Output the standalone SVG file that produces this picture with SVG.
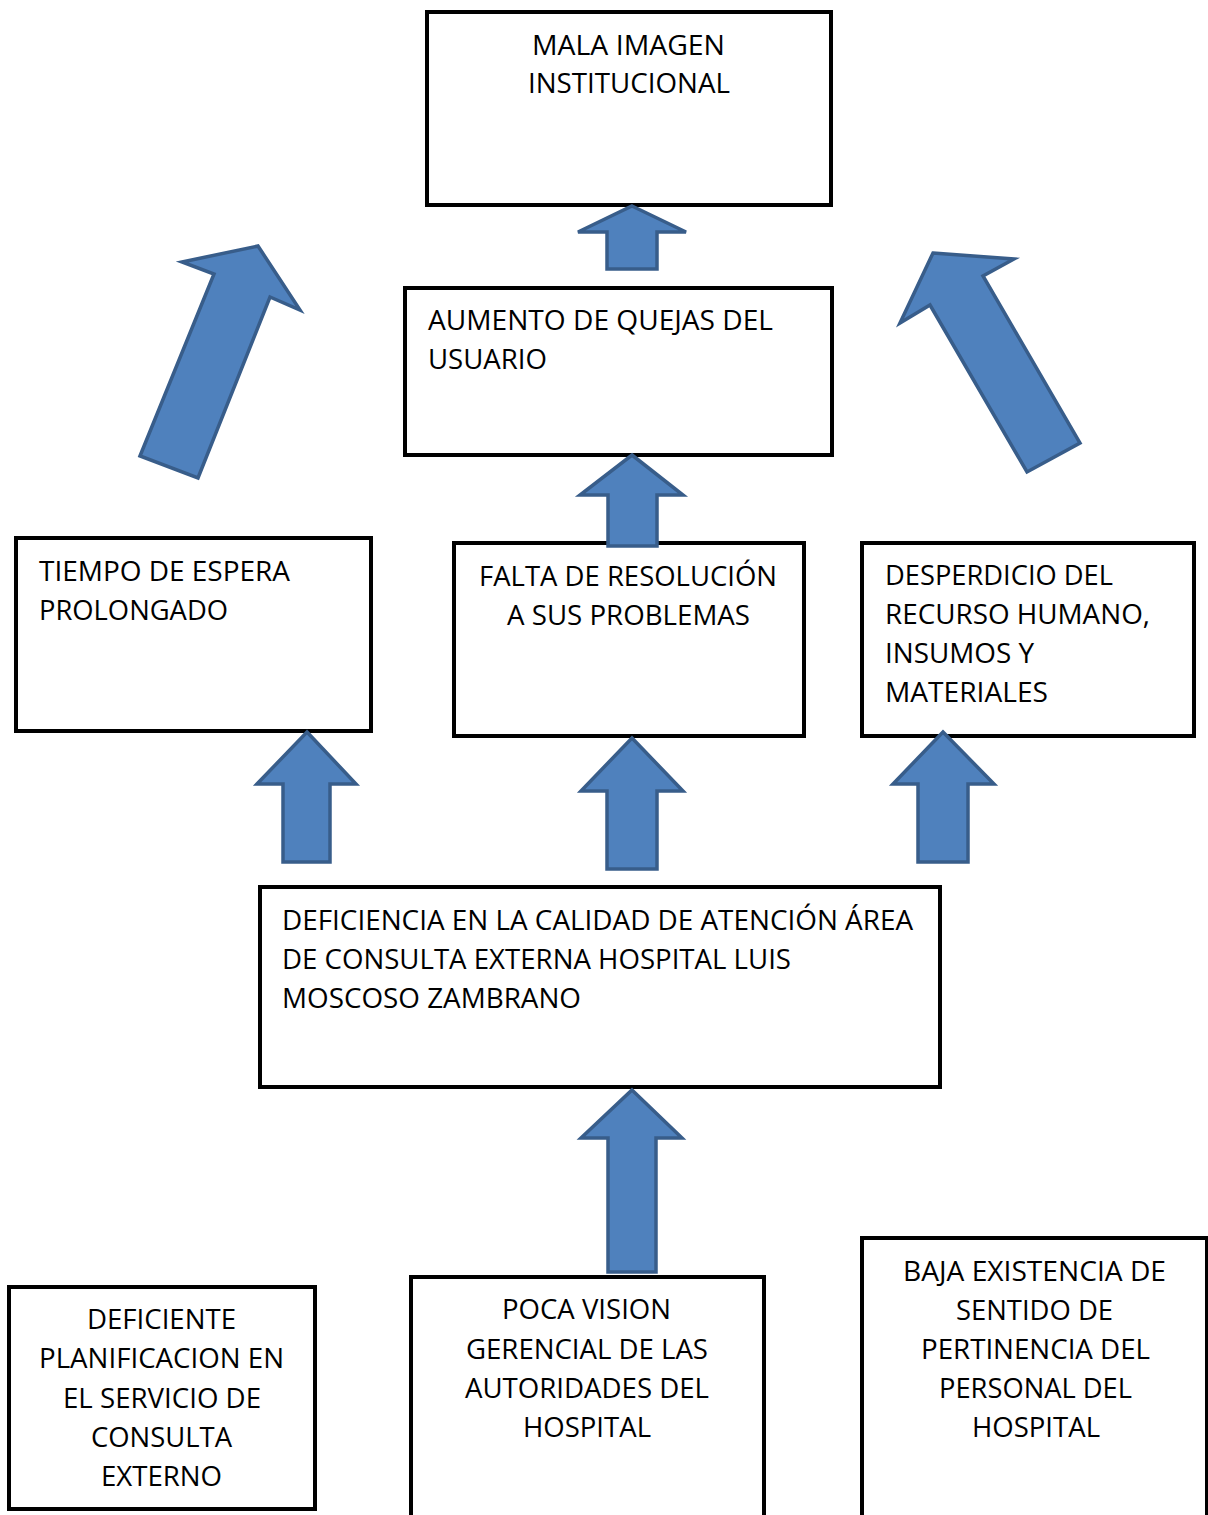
<svg xmlns="http://www.w3.org/2000/svg" width="1208" height="1515" viewBox="0 0 1208 1515">
<style>
.box{fill:#fff;stroke:#000;stroke-width:4}
.arr{fill:#4F81BD;stroke:#385D8A;stroke-width:3.5;stroke-linejoin:miter}
text{font-family:"Open Sans","Noto Sans","Liberation Sans",sans-serif;font-size:28px;fill:#000}
</style>
<rect width="1208" height="1515" fill="#fff"/>
<g id="n1"><rect class="box" x="427" y="12" width="404" height="193"/>
<text x="532" y="55" textLength="193" lengthAdjust="spacingAndGlyphs">MALA IMAGEN</text>
<text x="528" y="93" textLength="202" lengthAdjust="spacingAndGlyphs">INSTITUCIONAL</text></g>
<g id="n2"><rect class="box" x="405" y="288" width="427" height="167"/>
<text x="428" y="330" textLength="345" lengthAdjust="spacingAndGlyphs">AUMENTO DE QUEJAS DEL</text>
<text x="428" y="369" textLength="119" lengthAdjust="spacingAndGlyphs">USUARIO</text></g>
<g id="n3"><rect class="box" x="16" y="538" width="355" height="193"/>
<text x="39" y="581" textLength="251" lengthAdjust="spacingAndGlyphs">TIEMPO DE ESPERA</text>
<text x="39" y="620" textLength="189" lengthAdjust="spacingAndGlyphs">PROLONGADO</text></g>
<g id="n4"><rect class="box" x="454" y="543" width="350" height="193"/>
<text x="479" y="586" textLength="298" lengthAdjust="spacingAndGlyphs">FALTA DE RESOLUCIÓN</text>
<text x="507" y="625" textLength="243" lengthAdjust="spacingAndGlyphs">A SUS PROBLEMAS</text></g>
<g id="n5"><rect class="box" x="862" y="543" width="332" height="193"/>
<text x="885" y="585" textLength="228" lengthAdjust="spacingAndGlyphs">DESPERDICIO DEL</text>
<text x="885" y="624" textLength="265" lengthAdjust="spacingAndGlyphs">RECURSO HUMANO,</text>
<text x="885" y="663" textLength="149" lengthAdjust="spacingAndGlyphs">INSUMOS Y</text>
<text x="885" y="702" textLength="163" lengthAdjust="spacingAndGlyphs">MATERIALES</text></g>
<g id="n6"><rect class="box" x="260" y="887" width="680" height="200"/>
<text x="282" y="930" textLength="631" lengthAdjust="spacingAndGlyphs">DEFICIENCIA EN LA CALIDAD DE ATENCIÓN ÁREA</text>
<text x="282" y="969" textLength="509" lengthAdjust="spacingAndGlyphs">DE CONSULTA EXTERNA HOSPITAL LUIS</text>
<text x="282" y="1008" textLength="299" lengthAdjust="spacingAndGlyphs">MOSCOSO ZAMBRANO</text></g>
<g id="n7"><rect class="box" x="9" y="1287" width="306" height="222"/>
<text x="87" y="1329" textLength="149" lengthAdjust="spacingAndGlyphs">DEFICIENTE</text>
<text x="39" y="1368" textLength="245" lengthAdjust="spacingAndGlyphs">PLANIFICACION EN</text>
<text x="63" y="1408" textLength="198" lengthAdjust="spacingAndGlyphs">EL SERVICIO DE</text>
<text x="91" y="1447" textLength="141" lengthAdjust="spacingAndGlyphs">CONSULTA</text>
<text x="101" y="1486" textLength="121" lengthAdjust="spacingAndGlyphs">EXTERNO</text></g>
<g id="n8"><rect class="box" x="411" y="1277" width="353" height="250"/>
<text x="502" y="1319" textLength="169" lengthAdjust="spacingAndGlyphs">POCA VISION</text>
<text x="466" y="1359" textLength="242" lengthAdjust="spacingAndGlyphs">GERENCIAL DE LAS</text>
<text x="465" y="1398" textLength="244" lengthAdjust="spacingAndGlyphs">AUTORIDADES DEL</text>
<text x="523" y="1437" textLength="128" lengthAdjust="spacingAndGlyphs">HOSPITAL</text></g>
<g id="n9"><rect class="box" x="862" y="1238" width="345" height="290"/>
<text x="903" y="1281" textLength="263" lengthAdjust="spacingAndGlyphs">BAJA EXISTENCIA DE</text>
<text x="956" y="1320" textLength="157" lengthAdjust="spacingAndGlyphs">SENTIDO DE</text>
<text x="921" y="1359" textLength="229" lengthAdjust="spacingAndGlyphs">PERTINENCIA DEL</text>
<text x="939" y="1398" textLength="193" lengthAdjust="spacingAndGlyphs">PERSONAL DEL</text>
<text x="972" y="1437" textLength="128" lengthAdjust="spacingAndGlyphs">HOSPITAL</text></g>
<g id="connectors">
<polygon class="arr" points="632,206 686,232 657,232 657,269 607,269 607,232 578,232"/>
<polygon class="arr" points="632,455 683,495 657,495 657,546 608,546 608,495 580,495"/>
<polygon class="arr" points="307,732 356,784 330,784 330,862 283,862 283,784 257,784"/>
<polygon class="arr" points="632,738 683,791 657,791 657,869 607,869 607,791 581,791"/>
<polygon class="arr" points="943,732 994,784 968,784 968,862 918,862 918,784 893,784"/>
<polygon class="arr" points="632,1090 682,1138 656,1138 656,1272 608,1272 608,1138 581,1138"/>
<polygon class="arr" points="140,456 214,274 182,262 258,246 300,310 270,297 198,478"/>
<polygon class="arr" points="933,253 1014,259 983,276 1080,443 1027,472 930,305 900,323"/>
</g>
</svg>
